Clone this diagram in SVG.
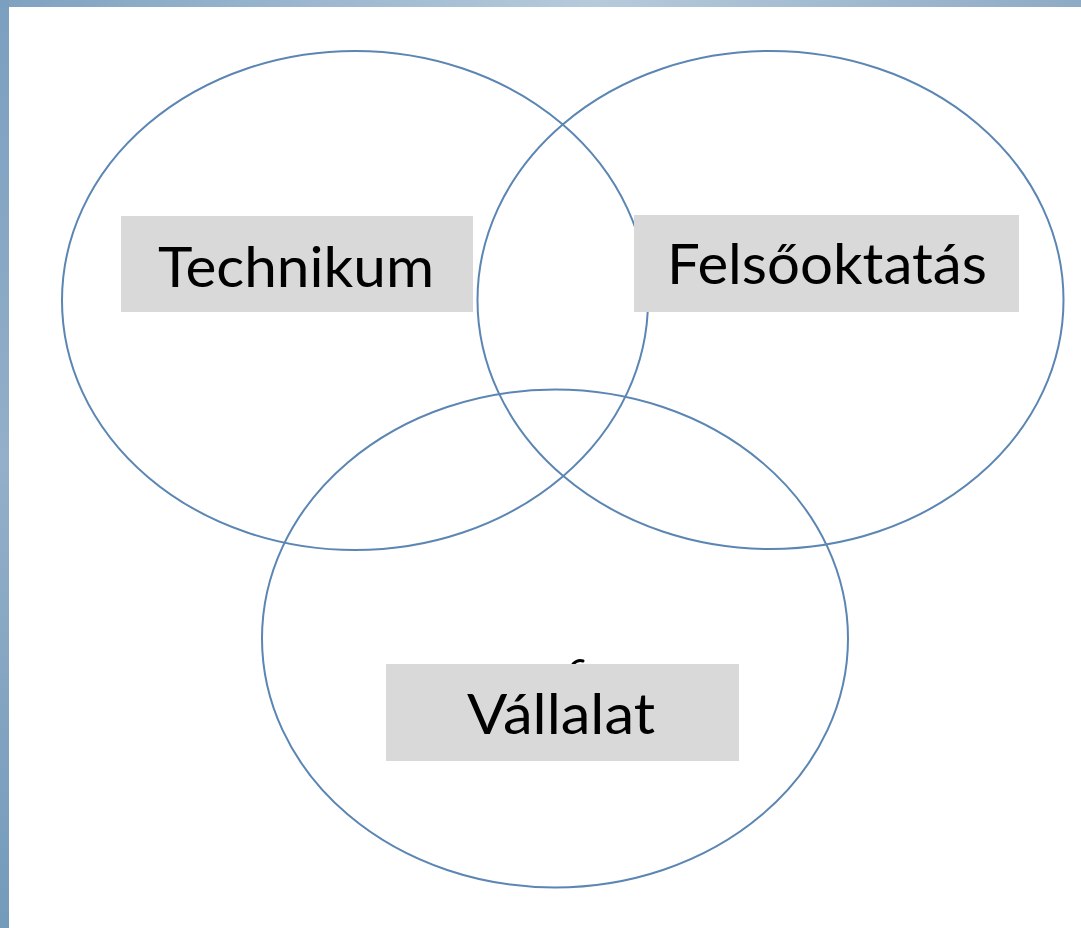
<svg xmlns="http://www.w3.org/2000/svg" width="1081" height="928" viewBox="0 0 1081 928">
  <defs>
    <linearGradient id="topg" x1="0" y1="0" x2="1" y2="0">
      <stop offset="0" stop-color="#7fa2c1"/>
      <stop offset="0.55" stop-color="#b6cadb"/>
      <stop offset="1" stop-color="#8eabc5"/>
    </linearGradient>
    <linearGradient id="leftg" x1="0" y1="0" x2="0" y2="1">
      <stop offset="0" stop-color="#7b9fbf"/>
      <stop offset="0.5" stop-color="#93afc9"/>
      <stop offset="1" stop-color="#749aba"/>
    </linearGradient>
  </defs>
  <style>
    .circ { fill: none; stroke: #5b86b3; stroke-width: 2; }
    .box { fill: #d9d9d9; }
    .lbl { font-family: "Lato", "Liberation Sans", sans-serif; font-size: 57px; fill: #000; }
  </style>
  <rect x="0" y="0" width="1081" height="928" fill="#ffffff"/>
  <rect x="0" y="0" width="1081" height="7" fill="url(#topg)"/>
  <rect x="0" y="0" width="9" height="928" fill="url(#leftg)"/>

  <g id="circle-technikum">
    <ellipse class="circ" cx="355" cy="300.5" rx="293" ry="249.5"/>
  </g>
  <g id="circle-felsooktatas">
    <ellipse class="circ" cx="770.5" cy="300" rx="293" ry="249"/>
  </g>
  <g id="circle-vallalat">
    <ellipse class="circ" cx="555" cy="638.5" rx="293" ry="249"/>
  </g>

  <path d="M573 664 Q578 659 583 661" stroke="#000" stroke-width="3" fill="none" stroke-linecap="round"/>

  <g id="technikum">
    <rect class="box" x="121" y="216" width="352" height="96"/>
    <text class="lbl" x="158" y="287" textLength="276" lengthAdjust="spacingAndGlyphs">Technikum</text>
  </g>
  <g id="felsooktatas">
    <rect class="box" x="634" y="215" width="385" height="97"/>
    <text class="lbl" x="667" y="284" textLength="320" lengthAdjust="spacingAndGlyphs">Felsőoktatás</text>
  </g>
  <g id="vallalat">
    <rect class="box" x="386" y="664" width="353" height="97"/>
    <text class="lbl" x="467" y="734" textLength="188" lengthAdjust="spacingAndGlyphs">Vállalat</text>
  </g>
</svg>
